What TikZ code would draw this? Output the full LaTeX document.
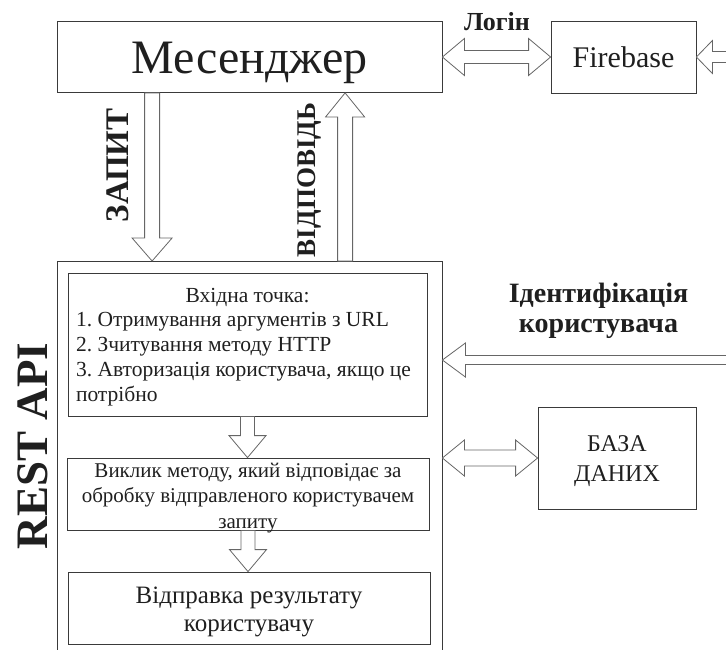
\documentclass[tikz,border=0pt]{standalone}
\usepackage{fontspec}
\setmainfont{Liberation Serif}
\usetikzlibrary{calc, positioning}
\frenchspacing

\definecolor{ink}{HTML}{1F1F1F}
\definecolor{edge}{HTML}{3A3A3A}
\definecolor{arrowedge}{HTML}{666666}

\newcommand{\fs}[2]{\fontsize{#1}{#2}\selectfont}
\newcommand{\topstrut}[1]{\rule{0pt}{#1}}

\tikzstyle{box} = [draw=edge, line width=0.8pt, rectangle, inner sep=0pt, text=ink, align=center]
\tikzstyle{lbl} = [text=ink, inner sep=0pt, font=\bfseries]
\tikzset{
  onearrow/.style args={#1/#2/#3}{draw=arrowedge, line width=0.8pt, fill=white,
    to path={($(\tikztostart)!#1!90:(\tikztotarget)$)
      -- ($(\tikztotarget)!#3!(\tikztostart)!#1!-90:(\tikztostart)$)
      -- ($(\tikztotarget)!#3!(\tikztostart)!#2!-90:(\tikztostart)$)
      -- (\tikztotarget)
      -- ($(\tikztotarget)!#3!(\tikztostart)!#2!90:(\tikztostart)$)
      -- ($(\tikztotarget)!#3!(\tikztostart)!#1!90:(\tikztostart)$)
      -- ($(\tikztostart)!#1!-90:(\tikztotarget)$) -- cycle}},
  twoarrow/.style args={#1/#2/#3}{draw=arrowedge, line width=0.8pt, fill=white,
    to path={-- ($(\tikztostart)!#3!(\tikztotarget)!#2!90:(\tikztotarget)$)
      -- ($(\tikztostart)!#3!(\tikztotarget)!#1!90:(\tikztotarget)$)
      -- ($(\tikztotarget)!#3!(\tikztostart)!#1!-90:(\tikztostart)$)
      -- ($(\tikztotarget)!#3!(\tikztostart)!#2!-90:(\tikztostart)$)
      -- (\tikztotarget)
      -- ($(\tikztotarget)!#3!(\tikztostart)!#2!90:(\tikztostart)$)
      -- ($(\tikztotarget)!#3!(\tikztostart)!#1!90:(\tikztostart)$)
      -- ($(\tikztostart)!#3!(\tikztotarget)!#1!-90:(\tikztotarget)$)
      -- ($(\tikztostart)!#3!(\tikztotarget)!#2!-90:(\tikztotarget)$) -- cycle}}
}

\begin{document}
\begin{tikzpicture}[x=1pt, y=-1pt]
    \clip (0,0) rectangle (726,649);

    % Messenger and Firebase
    \node[box, minimum width=385pt, minimum height=71pt, font=\fs{48}{56}] (msg) at (249.5,57) {\topstrut{43pt}Месенджер};
    \node[box, minimum width=145pt, minimum height=72pt, font=\fs{30}{36}] (fb) at (623.5,57) {Firebase};
    \node[lbl, anchor=base, font=\bfseries\fs{26}{30}] (login) at (497,30) {Логін};

    % REST API frame
    \node[box, minimum width=385pt, minimum height=400pt, anchor=north] (rest) at (249.5,261) {};
    \node[lbl, rotate=90, anchor=base, font=\bfseries\fs{45}{50}] (restlbl) at (47,446) {REST API};

    % Steps inside the frame
    \node[box, minimum width=359pt, minimum height=143pt, text width=343pt, inner xsep=8pt, align=flush left, font=\fs{21.5}{24.8}] (entry) at (247.5,344.5)
        {\makebox[\linewidth]{\topstrut{18.8pt}Вхідна точка:}\\
         1. Отримування аргументів з URL\\
         2. Зчитування методу HTTP\\
         3. Авторизація користувача, якщо це\\
         потрібно};
    \node[box, minimum width=362pt, minimum height=72pt, inner ysep=-5pt, font=\fs{21}{25.5}] (call) at (248,494)
        {\topstrut{21.7pt}Виклик методу, який відповідає за\\ обробку відправленого користувачем\\ запиту};
    \node[box, minimum width=362pt, minimum height=72pt, font=\fs{25}{28}] (send) at (249,608)
        {\topstrut{23.4pt}Відправка результату\\ користувачу};

    % Database and identification
    \node[box, minimum width=158pt, minimum height=102pt, font=\fs{24}{30}] (db) at (617,458) {\topstrut{22.8pt}БАЗА\\ ДАНИХ};
    \node[lbl, align=center, font=\bfseries\fs{28}{30}] (idlbl) at (598.5,310.5) {Ідентифікація\\ користувача};

    % Request / response labels
    \node[lbl, rotate=90, anchor=base, font=\bfseries\fs{33}{36}] (reqlbl) at (128,165.5) {ЗАПИТ};
    \node[lbl, rotate=90, anchor=base, font=\bfseries\fs{27}{32}] (resplbl) at (315,180) {ВІДПОВІДЬ};

    % Connector end points
    \coordinate (fbin) at (730,57);
    \coordinate (reqtop) at ($(msg.south west)+(95.5,0)$);
    \coordinate (reqend) at (reqtop |- rest.north);
    \coordinate (resptop) at ($(msg.south west)+(288.5,0)$);
    \coordinate (respend) at (resptop |- rest.north);
    \coordinate (idin) at (730,360);
    \coordinate (idend) at (idin -| rest.east);
    \coordinate (dbend) at (db.west -| rest.east);
    \coordinate (step1) at (entry.south |- call.north);
    \coordinate (step2) at (call.south |- send.north);

    % Block arrows
    \draw[twoarrow=6.5pt/18.5pt/22pt] (msg.east) to (fb.west);
    \draw[onearrow=5.5pt/16.5pt/16pt] (fbin) to (fb.east);
    \draw[onearrow=7.5pt/20pt/23pt] (reqtop) to (reqend);
    \draw[onearrow=7.5pt/19.5pt/24pt] (respend) to (resptop);
    \draw[onearrow=4.5pt/17pt/23pt] (idin) to (idend);
    \draw[twoarrow=8pt/18pt/22pt] (dbend) to (db.west);
    \draw[onearrow=7pt/18.5pt/22pt] (entry.south) to (step1);
    \draw[onearrow=7pt/18.5pt/22pt] (call.south) to (step2);
\end{tikzpicture}
\end{document}
